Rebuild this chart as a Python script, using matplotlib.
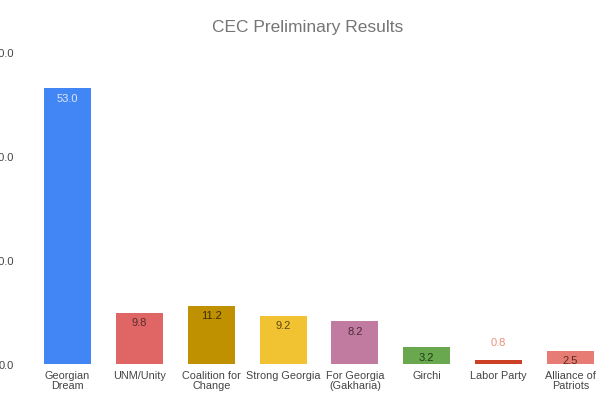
import matplotlib.pyplot as plt
import numpy as np

plt.rcParams['font.family'] = ['Liberation Sans', 'DejaVu Sans']

# Party results (percent)
parties = ['Georgian\nDream', 'UNM/Unity', 'Coalition for\nChange', 'Strong Georgia',
           'For Georgia\n(Gakharia)', 'Girchi', 'Labor Party', 'Alliance of\nPatriots']
results = [53.0, 9.8, 11.2, 9.2, 8.2, 3.2, 0.8, 2.5]
colors = ['#4285F4', '#E06666', '#BF9000', '#F1C232', '#C27BA0', '#6AA84F', '#CC4125', '#E67C73']
label_colors = ['#DDE8FB', '#5a2a2a', '#3d2e00', '#5a4a10', '#4a2a3a', '#1f3a14', '#E8907A', '#5a2a20']

fig = plt.figure(figsize=(6.15, 4.1), dpi=100)
ax = fig.add_axes([0.0514, 0.1098, 0.9346, 0.7609])

x = np.arange(len(parties))
bars = ax.bar(x, results, width=0.655, color=colors)

for i, (b, v) in enumerate(zip(bars, results)):
    if v < 2:
        ax.annotate(f'{v:.1f}', (b.get_x() + b.get_width() / 2, v), xytext=(0, 9),
                    textcoords='offset points', ha='center', va='bottom',
                    fontsize=8, color=label_colors[i])
    else:
        ax.annotate(f'{v:.1f}', (b.get_x() + b.get_width() / 2, v), xytext=(0, -3),
                    textcoords='offset points', ha='center', va='top',
                    fontsize=8, color=label_colors[i])

ax.set_xlim(-0.5, len(parties) - 0.5)
ax.set_ylim(0, 60)
ax.set_yticks([0, 20, 40, 60])
ax.set_yticklabels(['0.0', '20.0', '40.0', '60.0'])
ax.set_xticks(x)
ax.set_xticklabels(parties, linespacing=1.0)
ax.tick_params(axis='y', length=0, pad=12.5, labelsize=8, labelcolor='#444444')
ax.tick_params(axis='x', length=0, pad=4, labelsize=7.8, labelcolor='#444444')
for s in ax.spines.values():
    s.set_visible(False)

fig.text(0.5, 0.932, 'CEC Preliminary Results', ha='center', va='center',
         fontsize=12.5, color='#757575')

fig.savefig('out.png', dpi=100, facecolor='white')
